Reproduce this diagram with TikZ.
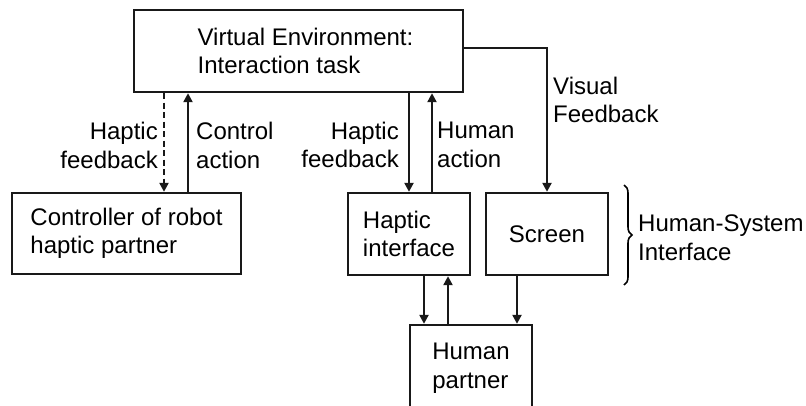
\documentclass[tikz,border=0pt]{standalone}
\usepackage{fontspec}
\setmainfont{Liberation Sans}
\usetikzlibrary{arrows.meta,decorations.pathreplacing}

\tikzset{
  txt/.style={font=\fontsize{24}{28.5}\selectfont},
  box/.style={txt, draw=black!90, line width=2.4pt, rectangle, align=left, inner sep=0pt},
  lbl/.style={txt, inner sep=0pt},
  arr/.style={draw=black!90, line width=2.6pt, -{Triangle[length=9pt,width=9pt]}},
  dasharr/.style={arr, dash pattern=on 6pt off 3.5pt},
}

\begin{document}
\begin{tikzpicture}[x=1pt, y=-1pt]
  \path[use as bounding box] (0,0) rectangle (806,405);
  \clip (0,0) rectangle (806,405);

  % blocks
  \node[box, minimum width=329pt, minimum height=82pt] (ve) at (298.5,51)
    {\hspace*{14pt}Virtual Environment:\\\hspace*{14pt}Interaction task};
  \node[box, minimum width=229pt, minimum height=81pt] (ctrl) at (126.5,233.5)
    {Controller of robot\\haptic partner};
  \node[box, minimum width=122pt, minimum height=82pt] (hi) at (409,234)
    {Haptic\\interface};
  \node[box, minimum width=122pt, minimum height=82pt] (scr) at (547,234)
    {Screen};
  \node[box, minimum width=122pt, minimum height=86pt] (hp) at (471,368)
    {Human\\partner};

  % arrow columns
  \coordinate (c1) at (164,0);
  \coordinate (c2) at (188,0);
  \coordinate (c3) at (409,0);
  \coordinate (c4) at (432,0);
  \coordinate (v1) at (547,48);
  \coordinate (c5) at (424,0);
  \coordinate (c6) at (448,0);
  \coordinate (c7) at (517,0);

  % robot partner loop
  \draw[dasharr] (ve.south -| c1) -- (ctrl.north -| c1);
  \draw[arr] (ctrl.north -| c2) -- (ve.south -| c2);

  % human partner loop
  \draw[arr] (ve.south -| c3) -- (hi.north -| c3);
  \draw[arr] (hi.north -| c4) -- (ve.south -| c4);
  \draw[arr] (ve.east |- v1) -- (v1) -- (scr.north -| v1);

  \draw[arr] (hi.south -| c5) -- (hp.north -| c5);
  \draw[arr] (hp.north -| c6) -- (hi.south -| c6);
  \draw[arr] (scr.south -| c7) -- (hp.north -| c7);

  % connector labels
  \node[lbl, anchor=east, align=right] (l1) at (158,145.5) {Haptic\\feedback};
  \node[lbl, anchor=west, align=left] (l2) at (196,145.5) {Control\\action};
  \node[lbl, anchor=east, align=right] (l3) at (399,145) {Haptic\\feedback};
  \node[lbl, anchor=west, align=left] (l4) at (437,145) {Human\\action};
  \node[lbl, anchor=west, align=left] (l5) at (553,100) {Visual\\Feedback};

  % human-system interface brace
  \coordinate (b1) at (624,185);
  \coordinate (b2) at (624,285);
  \draw[line width=1.6pt, decorate, decoration={brace, amplitude=8pt}] (b1) -- (b2);
  \node[lbl, anchor=west, align=left] (hsi) at (638,237.5) {Human-System\\Interface};
\end{tikzpicture}
\end{document}
